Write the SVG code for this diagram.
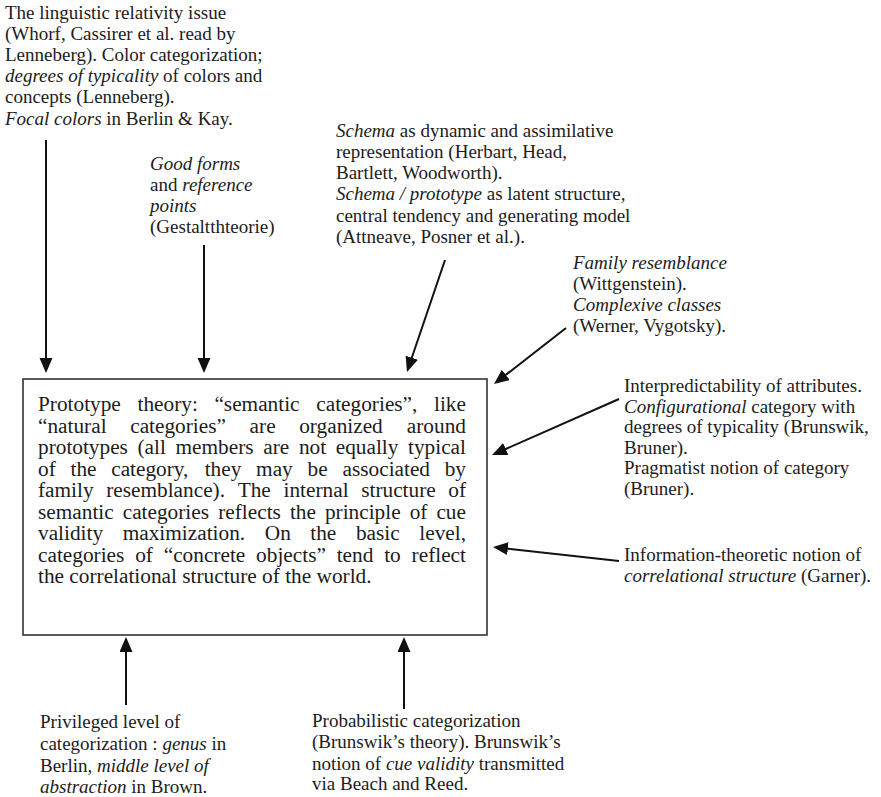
<svg xmlns="http://www.w3.org/2000/svg" width="881" height="797" viewBox="0 0 881 797">
  <style>
    text { font-family: "Liberation Serif", "Times New Roman", serif; fill: #1c1c1c; }
    .note { font-size: 19px; }
    .main { font-size: 21.3px; }
    .it { font-style: italic; }
    .box { fill: #ffffff; stroke: #333333; stroke-width: 1.6; }
    .arrow { fill: none; stroke: #111111; stroke-width: 2; marker-end: url(#head); }
  </style>
  <defs>
    <marker id="head" markerUnits="userSpaceOnUse" markerWidth="16" markerHeight="14" refX="5" refY="6.5" orient="auto">
      <path d="M0,0 L15,6.5 L0,13 z" fill="#111111"/>
    </marker>
  </defs>
  <rect width="881" height="797" fill="#ffffff"/>

  <!-- central box -->
  <g id="prototype-theory">
    <rect class="box" x="23" y="379" width="464" height="256"/>
    <text class="main">
      <tspan x="38" y="411">Prototype</tspan><tspan x="137.5" y="411">theory:</tspan><tspan x="214.4" y="411">“semantic</tspan><tspan x="316.3" y="411">categories”,</tspan><tspan x="434" y="411">like</tspan>
      <tspan x="38" y="432.5">“natural</tspan><tspan x="130.2" y="432.5">categories”</tspan><tspan x="249.6" y="432.5">are</tspan><tspan x="299.2" y="432.5">organized</tspan><tspan x="406.8" y="432.5">around</tspan>
      <tspan x="38" y="454">prototypes</tspan><tspan x="137.5" y="454">(all</tspan><tspan x="175.5" y="454">members</tspan><tspan x="263.3" y="454">are</tspan><tspan x="298.9" y="454">not</tspan><tspan x="335.7" y="454">equally</tspan><tspan x="408" y="454">typical</tspan>
      <tspan x="38" y="475.5">of</tspan><tspan x="70.5" y="475.5">the</tspan><tspan x="111.2" y="475.5">category,</tspan><tspan x="204.7" y="475.5">they</tspan><tspan x="256.1" y="475.5">may</tspan><tspan x="307.6" y="475.5">be</tspan><tspan x="342.5" y="475.5">associated</tspan><tspan x="444.7" y="475.5">by</tspan>
      <tspan x="38" y="497">family</tspan><tspan x="106.2" y="497">resemblance).</tspan><tspan x="237.7" y="497">The</tspan><tspan x="283.5" y="497">internal</tspan><tspan x="361.2" y="497">structure</tspan><tspan x="448.3" y="497">of</tspan>
      <tspan x="38" y="518.5">semantic</tspan><tspan x="122.7" y="518.5">categories</tspan><tspan x="218.2" y="518.5">reflects</tspan><tspan x="289.9" y="518.5">the</tspan><tspan x="324.9" y="518.5">principle</tspan><tspan x="409.7" y="518.5">of</tspan><tspan x="436.4" y="518.5">cue</tspan>
      <tspan x="38" y="540">validity</tspan><tspan x="122.7" y="540">maximization.</tspan><tspan x="264.8" y="540">On</tspan><tspan x="310.3" y="540">the</tspan><tspan x="355.9" y="540">basic</tspan><tspan x="419.3" y="540">level,</tspan>
      <tspan x="38" y="561.5">categories</tspan><tspan x="135.2" y="561.5">of</tspan><tspan x="163.7" y="561.5">“concrete</tspan><tspan x="256.1" y="561.5">objects”</tspan><tspan x="336.7" y="561.5">tend</tspan><tspan x="384.2" y="561.5">to</tspan><tspan x="411.6" y="561.5">reflect</tspan>
      <tspan x="38" y="583">the correlational structure of the world.</tspan>
    </text>
  </g>

  <g id="linguistic-relativity">
    <text class="note">
      <tspan x="5" y="19">The linguistic relativity issue</tspan>
      <tspan x="5" y="40">(Whorf, Cassirer et al. read by</tspan>
      <tspan x="5" y="61">Lenneberg). Color categorization;</tspan>
      <tspan x="5" y="82"><tspan class="it">degrees of typicality</tspan> of colors and</tspan>
      <tspan x="5" y="103">concepts (Lenneberg).</tspan>
      <tspan x="5" y="125"><tspan class="it">Focal colors</tspan> in Berlin &amp; Kay.</tspan>
    </text>
  </g>

  <g id="good-forms">
    <text class="note">
      <tspan x="150" y="170" class="it">Good forms</tspan>
      <tspan x="150" y="191">and <tspan class="it">reference</tspan></tspan>
      <tspan x="150" y="212" class="it">points</tspan>
      <tspan x="150" y="233">(Gestaltthteorie)</tspan>
    </text>
  </g>

  <g id="schema">
    <text class="note">
      <tspan x="336" y="137"><tspan class="it">Schema</tspan> as dynamic and assimilative</tspan>
      <tspan x="336" y="158">representation (Herbart, Head,</tspan>
      <tspan x="336" y="179">Bartlett, Woodworth).</tspan>
      <tspan x="336" y="200"><tspan class="it">Schema / prototype</tspan> as latent structure,</tspan>
      <tspan x="336" y="222">central tendency and generating model</tspan>
      <tspan x="336" y="243">(Attneave, Posner et al.).</tspan>
    </text>
  </g>

  <g id="family-resemblance">
    <text class="note">
      <tspan x="573" y="269" class="it">Family resemblance</tspan>
      <tspan x="573" y="290">(Wittgenstein).</tspan>
      <tspan x="573" y="311" class="it">Complexive classes</tspan>
      <tspan x="573" y="332">(Werner, Vygotsky).</tspan>
    </text>
  </g>

  <g id="interpredictability">
    <text class="note">
      <tspan x="624" y="392">Interpredictability of attributes.</tspan>
      <tspan x="624" y="413"><tspan class="it">Configurational</tspan> category with</tspan>
      <tspan x="624" y="433">degrees of typicality (Brunswik,</tspan>
      <tspan x="624" y="454">Bruner).</tspan>
      <tspan x="624" y="474">Pragmatist notion of category</tspan>
      <tspan x="624" y="495">(Bruner).</tspan>
    </text>
  </g>

  <g id="correlational-structure">
    <text class="note">
      <tspan x="624" y="561">Information-theoretic notion of</tspan>
      <tspan x="624" y="582"><tspan class="it">correlational structure</tspan> (Garner).</tspan>
    </text>
  </g>

  <g id="privileged-level">
    <text class="note">
      <tspan x="40" y="728">Privileged level of</tspan>
      <tspan x="40" y="750">categorization : <tspan class="it">genus</tspan> in</tspan>
      <tspan x="40" y="772">Berlin, <tspan class="it">middle level of</tspan></tspan>
      <tspan x="40" y="793"><tspan class="it">abstraction</tspan> in Brown.</tspan>
    </text>
  </g>

  <g id="probabilistic-categorization">
    <text class="note">
      <tspan x="312" y="727">Probabilistic categorization</tspan>
      <tspan x="312" y="748">(Brunswik’s theory). Brunswik’s</tspan>
      <tspan x="312" y="770">notion of <tspan class="it">cue validity</tspan> transmitted</tspan>
      <tspan x="312" y="790">via Beach and Reed.</tspan>
    </text>
  </g>

  <!-- connectors: every source points at the central box -->
  <g id="connectors">
    <path class="arrow" d="M46,140 L46,363"/>
    <path class="arrow" d="M204,245 L204,363"/>
    <path class="arrow" d="M445,260 L410.2,362.5"/>
    <path class="arrow" d="M566,328 L501.9,377.9"/>
    <path class="arrow" d="M619,399 L501.2,451"/>
    <path class="arrow" d="M619,561 L502.9,548.1"/>
    <path class="arrow" d="M126,705 L126,647"/>
    <path class="arrow" d="M404,709 L404,647"/>
  </g>
</svg>
